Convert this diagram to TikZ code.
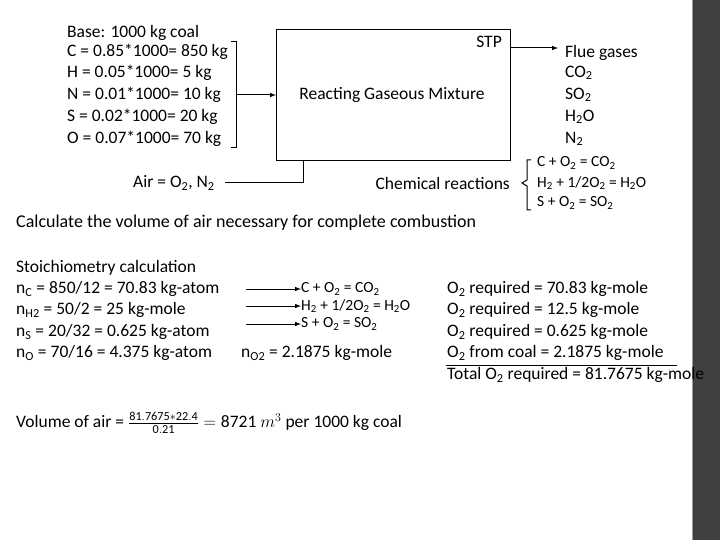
\documentclass[tikz,border=0pt]{standalone}
\usepackage{fontspec}
\setmainfont{Carlito}
\usepackage{amsmath}
\begin{document}
\begin{tikzpicture}[x=1pt,y=-1pt,
  t/.style={anchor=west,inner sep=0pt,font=\fontsize{17.5}{19}\selectfont},
  s/.style={anchor=west,inner sep=0pt,font=\fontsize{15.5}{17}\selectfont},
  arr/.style={-latex,line width=1pt},
  ln/.style={line width=1pt}]
\useasboundingbox (0,0) rectangle (720,540);
\fill[white] (0,0) rectangle (720,540);
\fill[black!75] (692,0) rectangle (720,540);
\draw[white!60!black,line width=0.8pt] (692,0) -- (692,540);
% inputs
\node[t] (b0) at (67,33) {Base: 1000 kg coal};
\node[t] (b1) at (67,52) {C = 0.85*1000= 850 kg};
\node[t] (b2) at (67,73) {H = 0.05*1000= 5 kg};
\node[t] (b3) at (67,95) {N = 0.01*1000= 10 kg};
\node[t] (b4) at (67,117) {S = 0.02*1000= 20 kg};
\node[t] (b5) at (67,139) {O = 0.07*1000= 70 kg};
\draw[ln] (231,42) -- (236,42) -- (236,148) -- (231,148);
\node[draw,line width=1pt,minimum width=234pt,minimum height=131pt,anchor=north west,inner sep=0pt] (box) at (276,29) {};
\draw[arr] (236,95) -- (box.west);
\node[t,anchor=east] (stp) at (502,42) {STP};
\node[t,anchor=center] (rgm) at (392,95) {Reacting Gaseous Mixture};
\coordinate (fg) at (558,48);
\draw[arr] (510,48) -- (fg);
\node[t] (f0) at (565,53) {Flue gases};
\node[t] (f1) at (565,73) {CO\textsubscript{2}};
\node[t] (f2) at (565,95) {SO\textsubscript{2}};
\node[t] (f3) at (565,117) {H\textsubscript{2}O};
\node[t] (f4) at (565,139) {N\textsubscript{2}};
\node[t] (air) at (133,183) {Air = O\textsubscript{2}, N\textsubscript{2}};
\draw[ln] (225,183) -- (303,183) -- (303,160);
\node[t,anchor=east] (cr) at (510,183) {Chemical reactions};
\draw[ln] (531,160) -- (527,160) -- (527,180) -- (522,183) -- (527,186) -- (527,210) -- (531,210);
\node[s] (r1) at (537,163) {C + O\textsubscript{2} = CO\textsubscript{2}};
\node[s] (r2) at (537,183) {H\textsubscript{2} + 1/2O\textsubscript{2} = H\textsubscript{2}O};
\node[s] (r3) at (537,203) {S + O\textsubscript{2} = SO\textsubscript{2}};
\node[t,font=\fontsize{18}{20}\selectfont] (calc) at (16,223) {Calculate the volume of air necessary for complete combustion};
% stoichiometry
\node[t] (st) at (16,268) {Stoichiometry calculation};
\node[t] (n1) at (16,289) {n\textsubscript{C} = 850/12 = 70.83 kg-atom};
\node[t] (n2) at (16,310) {n\textsubscript{H2} = 50/2 = 25 kg-mole};
\node[t] (n3) at (16,332) {n\textsubscript{S} = 20/32 = 0.625 kg-atom};
\node[t] (n4) at (16,353) {n\textsubscript{O} = 70/16 = 4.375 kg-atom};
\node[s] (m1) at (301,289) {C + O\textsubscript{2} = CO\textsubscript{2}};
\node[s] (m2) at (301,306) {H\textsubscript{2} + 1/2O\textsubscript{2} = H\textsubscript{2}O};
\node[s] (m3) at (301,324) {S + O\textsubscript{2} = SO\textsubscript{2}};
\draw[arr] ([xshift=-55pt]m1.west) -- (m1.west);
\draw[arr] ([xshift=-55pt]m2.west) -- (m2.west);
\draw[arr] ([xshift=-55pt]m3.west) -- (m3.west);
\node[t] (no2) at (241,353) {n\textsubscript{O2} = 2.1875 kg-mole};
\node[t] (o1) at (447,289) {O\textsubscript{2} required = 70.83 kg-mole};
\node[t] (o2) at (447,310) {O\textsubscript{2} required = 12.5 kg-mole};
\node[t] (o3) at (447,332) {O\textsubscript{2} required = 0.625 kg-mole};
\node[t] (o4) at (447,353) {O\textsubscript{2} from coal = 2.1875 kg-mole};
\draw[line width=0.8pt] (446,365) -- (677,365);
\node[t] (o5) at (447,375) {Total O\textsubscript{2} required = 81.7675 kg-mole};
\node[t] (vol) at (16,423) {Volume of air = $\frac{\mathrm{81.7675*22.4}}{\mathrm{0.21}} = \mathrm{8721}\ m^3$ per 1000 kg coal};
\end{tikzpicture}
\end{document}
